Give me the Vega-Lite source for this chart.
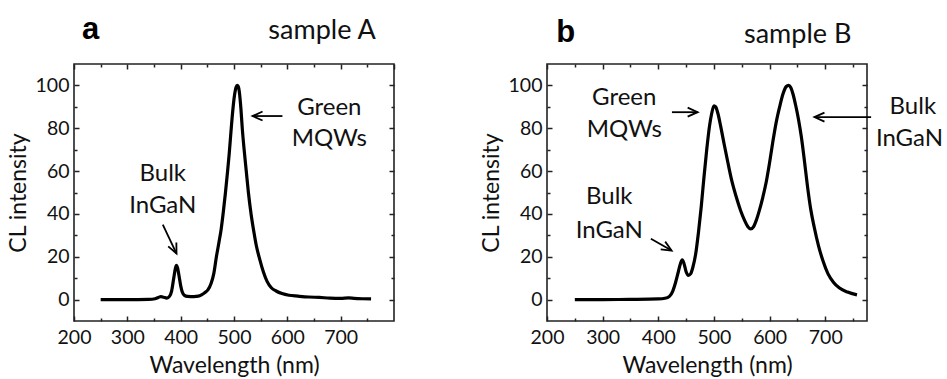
{
  "$schema": "https://vega.github.io/schema/vega-lite/v6.json",
  "padding": {"left": 6, "top": 12, "right": 0, "bottom": 0},
  "spacing": 83,
  "config": {
    "font": "Lato",
    "view": {"stroke": "#222", "strokeWidth": 1.6},
    "axis": {"labelFlush": false, "labelOverlap": false, "labelBound": false, "grid": false, "domain": false, "tickColor": "#222", "tickWidth": 1.5, "labelColor": "#111", "titleColor": "#111", "labelFontSize": 19.5, "titleFontSize": 23, "titleFontWeight": "normal", "labelFont": "Lato", "titleFont": "Lato"}
  },
  "datasets": {
    "curveA": [
      {"wl": 250, "v": 0}, {"wl": 300, "v": 0}, {"wl": 340, "v": 0.1}, {"wl": 352, "v": 0.4}, {"wl": 358, "v": 1.0},
      {"wl": 363, "v": 1.4}, {"wl": 368, "v": 1.1}, {"wl": 374, "v": 0.7}, {"wl": 379, "v": 1.5}, {"wl": 383, "v": 4},
      {"wl": 387, "v": 10}, {"wl": 390, "v": 14.5}, {"wl": 392, "v": 16}, {"wl": 394, "v": 15}, {"wl": 397, "v": 11},
      {"wl": 400, "v": 6.5}, {"wl": 403, "v": 3.5}, {"wl": 407, "v": 2}, {"wl": 413, "v": 1.5}, {"wl": 425, "v": 1.4},
      {"wl": 433, "v": 1.6}, {"wl": 439, "v": 2.2}, {"wl": 445, "v": 3.2}, {"wl": 451, "v": 4.5}, {"wl": 457, "v": 7.5},
      {"wl": 462, "v": 12}, {"wl": 467, "v": 20}, {"wl": 472, "v": 27}, {"wl": 476, "v": 33}, {"wl": 480, "v": 41},
      {"wl": 484, "v": 50}, {"wl": 488, "v": 60}, {"wl": 491, "v": 68}, {"wl": 494.5, "v": 79}, {"wl": 498, "v": 89},
      {"wl": 501, "v": 95.5}, {"wl": 504, "v": 99.3}, {"wl": 506, "v": 100}, {"wl": 508, "v": 99.5}, {"wl": 510, "v": 97},
      {"wl": 513, "v": 89}, {"wl": 515.5, "v": 80}, {"wl": 519, "v": 70}, {"wl": 523, "v": 60}, {"wl": 527, "v": 50},
      {"wl": 532, "v": 40}, {"wl": 537, "v": 32}, {"wl": 542, "v": 25}, {"wl": 548, "v": 19}, {"wl": 555, "v": 13},
      {"wl": 562, "v": 8.5}, {"wl": 570, "v": 5.5}, {"wl": 579, "v": 4}, {"wl": 590, "v": 2.8}, {"wl": 603, "v": 2},
      {"wl": 620, "v": 1.6}, {"wl": 640, "v": 1.2}, {"wl": 660, "v": 1.0}, {"wl": 680, "v": 0.7}, {"wl": 700, "v": 0.6},
      {"wl": 715, "v": 0.8}, {"wl": 725, "v": 0.6}, {"wl": 740, "v": 0.4}, {"wl": 757, "v": 0.3}
    ],
    "curveB": [
      {"wl": 250, "v": 0}, {"wl": 300, "v": 0}, {"wl": 350, "v": 0.1}, {"wl": 400, "v": 0.3}, {"wl": 412, "v": 0.6},
      {"wl": 420, "v": 1.5}, {"wl": 426, "v": 4}, {"wl": 431, "v": 8}, {"wl": 436, "v": 13}, {"wl": 440, "v": 17},
      {"wl": 443, "v": 18.5}, {"wl": 446, "v": 17}, {"wl": 450, "v": 13}, {"wl": 454, "v": 11.3}, {"wl": 458, "v": 12},
      {"wl": 462, "v": 15}, {"wl": 467, "v": 21}, {"wl": 472, "v": 31}, {"wl": 477, "v": 43}, {"wl": 482, "v": 57},
      {"wl": 487, "v": 70}, {"wl": 492, "v": 81}, {"wl": 496, "v": 87}, {"wl": 500, "v": 90.5}, {"wl": 503, "v": 90},
      {"wl": 507, "v": 87}, {"wl": 512, "v": 81}, {"wl": 518, "v": 73}, {"wl": 525, "v": 64}, {"wl": 532, "v": 55.5},
      {"wl": 540, "v": 48}, {"wl": 548, "v": 41.5}, {"wl": 555, "v": 37}, {"wl": 561, "v": 34}, {"wl": 566, "v": 33},
      {"wl": 571, "v": 34}, {"wl": 576, "v": 37}, {"wl": 582, "v": 42}, {"wl": 588, "v": 48}, {"wl": 594, "v": 55},
      {"wl": 600, "v": 64}, {"wl": 606, "v": 74}, {"wl": 612, "v": 83}, {"wl": 618, "v": 90}, {"wl": 624, "v": 96},
      {"wl": 630, "v": 99.5}, {"wl": 634, "v": 100}, {"wl": 638, "v": 99}, {"wl": 642, "v": 96}, {"wl": 647, "v": 90.5},
      {"wl": 652, "v": 84}, {"wl": 657, "v": 76}, {"wl": 662, "v": 66}, {"wl": 668, "v": 53}, {"wl": 674, "v": 42},
      {"wl": 680, "v": 34}, {"wl": 688, "v": 25}, {"wl": 696, "v": 18}, {"wl": 705, "v": 12}, {"wl": 715, "v": 8},
      {"wl": 725, "v": 5.5}, {"wl": 740, "v": 3.5}, {"wl": 757, "v": 2.2}
    ],
    "labelsA": [
      {"x": 366.5, "y": 55.6, "t": "Bulk"}, {"x": 366.5, "y": 40.5, "t": "InGaN"},
      {"x": 678.7, "y": 86.4, "t": "Green"}, {"x": 678.7, "y": 71.6, "t": "MQWs"}
    ],
    "labelsB": [
      {"x": 338.8, "y": 90.7, "t": "Green"}, {"x": 338.8, "y": 75.8, "t": "MQWs"},
      {"x": 311.9, "y": 44.4, "t": "Bulk"}, {"x": 311.9, "y": 28.8, "t": "InGaN"},
      {"x": 857.4, "y": 86.8, "t": "Bulk"}, {"x": 851.4, "y": 71.6, "t": "InGaN"}
    ],
    "titlesA": [{"x": 231, "y": 121.8, "t": "a", "kind": "letter"}, {"x": 665, "y": 121.8, "t": "sample A", "kind": "sample"}],
    "titlesB": [{"x": 233.8, "y": 120.2, "t": "b", "kind": "letter"}, {"x": 650.5, "y": 119.7, "t": "sample B", "kind": "sample"}],
    "arrowsA": [
      {"x": 366.5, "y": 35, "x2": 392.2, "y2": 21.5, "head": "down"},
      {"x": 590.8, "y": 85.7, "x2": 534.8, "y2": 85.7, "head": "left"}
    ],
    "arrowsB": [
      {"x": 424.5, "y": 87.5, "x2": 470.7, "y2": 87.5, "head": "right"},
      {"x": 386.7, "y": 28.4, "x2": 423.9, "y2": 22.9, "head": "downright"},
      {"x": 782.4, "y": 85.2, "x2": 680.6, "y2": 85.2, "head": "left"}
    ]
  },
  "hconcat": [
    {
      "width": 320, "height": 257,
      "layer": [
        {
          "data": {"name": "curveA"},
          "mark": {"type": "line", "color": "#000", "strokeWidth": 3.2, "interpolate": "monotone"},
          "encoding": {
            "x": {"field": "wl", "type": "quantitative", "scale": {"domain": [200, 800], "nice": false, "zero": false},
                  "axis": {"orient": "bottom", "values": [200, 300, 400, 500, 600, 700], "tickSize": -5, "labelPadding": 12, "title": "Wavelength (nm)", "titlePadding": 8}},
            "y": {"field": "v", "type": "quantitative", "scale": {"domain": [-10, 110], "nice": false, "zero": false},
                  "axis": {"orient": "left", "values": [0, 20, 40, 60, 80, 100], "tickSize": -5, "labelPadding": 10, "title": "CL intensity", "titlePadding": 5}}
          }
        },
        {
          "data": {"name": "arrowsA"},
          "mark": {"type": "rule", "color": "#000", "strokeWidth": 1.8},
          "encoding": {
            "x": {"field": "x", "type": "quantitative", "scale": {"domain": [200, 800], "nice": false, "zero": false},
                  "axis": {"orient": "bottom", "values": [250, 350, 450, 550, 650, 750], "tickSize": -3, "labels": false, "title": null}},
            "y": {"field": "y", "type": "quantitative", "scale": {"domain": [-10, 110], "nice": false, "zero": false},
                  "axis": {"orient": "left", "values": [10, 30, 50, 70, 90], "tickSize": -3, "labels": false, "title": null}},
            "x2": {"field": "x2"}, "y2": {"field": "y2"}
          }
        },
        {
          "data": {"name": "labelsA"},
          "mark": {"type": "text", "fontSize": 24, "baseline": "alphabetic", "align": "center", "color": "#111"},
          "encoding": {
            "x": {"field": "x", "type": "quantitative", "scale": {"domain": [200, 800], "nice": false, "zero": false},
                  "axis": {"orient": "top", "values": [200, 300, 400, 500, 600, 700, 800], "tickSize": -5, "labels": false, "title": null}},
            "y": {"field": "y", "type": "quantitative", "scale": {"domain": [-10, 110], "nice": false, "zero": false},
                  "axis": {"orient": "right", "values": [0, 20, 40, 60, 80, 100], "tickSize": -5, "labels": false, "title": null}},
            "text": {"field": "t"}
          }
        },
        {
          "data": {"name": "titlesA"},
          "transform": [{"filter": "datum.kind === 'sample'"}],
          "mark": {"type": "text", "fontSize": 27, "baseline": "alphabetic", "align": "center", "color": "#111"},
          "encoding": {
            "x": {"field": "x", "type": "quantitative", "scale": {"domain": [200, 800], "nice": false, "zero": false},
                  "axis": {"orient": "top", "values": [250, 350, 450, 550, 650, 750], "tickSize": -3, "labels": false, "title": null}},
            "y": {"field": "y", "type": "quantitative", "scale": {"domain": [-10, 110], "nice": false, "zero": false},
                  "axis": {"orient": "right", "values": [10, 30, 50, 70, 90], "tickSize": -3, "labels": false, "title": null}},
            "text": {"field": "t"}
          }
        },
        {
          "data": {"name": "titlesA"},
          "transform": [{"filter": "datum.kind === 'letter'"}],
          "mark": {"type": "text", "font": "Liberation Sans", "fontWeight": "bold", "fontSize": 31, "baseline": "alphabetic", "align": "center", "color": "#000"},
          "encoding": {
            "x": {"field": "x", "type": "quantitative", "scale": {"domain": [200, 800], "nice": false, "zero": false}, "axis": null},
            "y": {"field": "y", "type": "quantitative", "scale": {"domain": [-10, 110], "nice": false, "zero": false}, "axis": null},
            "text": {"field": "t"}
          }
        },
        {
          "data": {"name": "arrowsA"},
          "transform": [{"filter": "datum.head === 'down'"}],
          "mark": {"type": "point", "shape": "M -1 -0.45 L 0 0 L -1 0.45", "size": 400, "filled": false, "stroke": "#000", "strokeWidth": 1.8, "opacity": 1, "angle": 65},
          "encoding": {
            "x": {"field": "x2", "type": "quantitative", "scale": {"domain": [200, 800], "nice": false, "zero": false}, "axis": null},
            "y": {"field": "y2", "type": "quantitative", "scale": {"domain": [-10, 110], "nice": false, "zero": false}, "axis": null}
          }
        },
        {
          "data": {"name": "arrowsA"},
          "transform": [{"filter": "datum.head === 'left'"}],
          "mark": {"type": "point", "shape": "M -1 -0.45 L 0 0 L -1 0.45", "size": 400, "filled": false, "stroke": "#000", "strokeWidth": 1.8, "opacity": 1, "angle": 180},
          "encoding": {
            "x": {"field": "x2", "type": "quantitative", "scale": {"domain": [200, 800], "nice": false, "zero": false}, "axis": null},
            "y": {"field": "y2", "type": "quantitative", "scale": {"domain": [-10, 110], "nice": false, "zero": false}, "axis": null}
          }
        }
      ]
    },
    {
      "width": 320, "height": 257,
      "layer": [
        {
          "data": {"name": "curveB"},
          "mark": {"type": "line", "color": "#000", "strokeWidth": 3.2, "interpolate": "monotone"},
          "encoding": {
            "x": {"field": "wl", "type": "quantitative", "scale": {"domain": [200, 775], "nice": false, "zero": false},
                  "axis": {"orient": "bottom", "values": [200, 300, 400, 500, 600, 700], "tickSize": -5, "labelPadding": 12, "title": "Wavelength (nm)", "titlePadding": 8}},
            "y": {"field": "v", "type": "quantitative", "scale": {"domain": [-10, 110], "nice": false, "zero": false},
                  "axis": {"orient": "left", "values": [0, 20, 40, 60, 80, 100], "tickSize": -5, "labelPadding": 10, "title": "CL intensity", "titlePadding": 5}}
          }
        },
        {
          "data": {"name": "arrowsB"},
          "mark": {"type": "rule", "color": "#000", "strokeWidth": 1.8},
          "encoding": {
            "x": {"field": "x", "type": "quantitative", "scale": {"domain": [200, 775], "nice": false, "zero": false},
                  "axis": {"orient": "bottom", "values": [250, 350, 450, 550, 650, 750], "tickSize": -3, "labels": false, "title": null}},
            "y": {"field": "y", "type": "quantitative", "scale": {"domain": [-10, 110], "nice": false, "zero": false},
                  "axis": {"orient": "left", "values": [10, 30, 50, 70, 90], "tickSize": -3, "labels": false, "title": null}},
            "x2": {"field": "x2"}, "y2": {"field": "y2"}
          }
        },
        {
          "data": {"name": "labelsB"},
          "mark": {"type": "text", "fontSize": 24, "baseline": "alphabetic", "align": "center", "color": "#111"},
          "encoding": {
            "x": {"field": "x", "type": "quantitative", "scale": {"domain": [200, 775], "nice": false, "zero": false},
                  "axis": {"orient": "top", "values": [200, 300, 400, 500, 600, 700], "tickSize": -5, "labels": false, "title": null}},
            "y": {"field": "y", "type": "quantitative", "scale": {"domain": [-10, 110], "nice": false, "zero": false},
                  "axis": {"orient": "right", "values": [0, 20, 40, 60, 80, 100], "tickSize": -5, "labels": false, "title": null}},
            "text": {"field": "t"}
          }
        },
        {
          "data": {"name": "titlesB"},
          "transform": [{"filter": "datum.kind === 'sample'"}],
          "mark": {"type": "text", "fontSize": 27, "baseline": "alphabetic", "align": "center", "color": "#111"},
          "encoding": {
            "x": {"field": "x", "type": "quantitative", "scale": {"domain": [200, 775], "nice": false, "zero": false},
                  "axis": {"orient": "top", "values": [250, 350, 450, 550, 650, 750], "tickSize": -3, "labels": false, "title": null}},
            "y": {"field": "y", "type": "quantitative", "scale": {"domain": [-10, 110], "nice": false, "zero": false},
                  "axis": {"orient": "right", "values": [10, 30, 50, 70, 90], "tickSize": -3, "labels": false, "title": null}},
            "text": {"field": "t"}
          }
        },
        {
          "data": {"name": "titlesB"},
          "transform": [{"filter": "datum.kind === 'letter'"}],
          "mark": {"type": "text", "font": "Liberation Sans", "fontWeight": "bold", "fontSize": 31, "baseline": "alphabetic", "align": "center", "color": "#000"},
          "encoding": {
            "x": {"field": "x", "type": "quantitative", "scale": {"domain": [200, 775], "nice": false, "zero": false}, "axis": null},
            "y": {"field": "y", "type": "quantitative", "scale": {"domain": [-10, 110], "nice": false, "zero": false}, "axis": null},
            "text": {"field": "t"}
          }
        },
        {
          "data": {"name": "arrowsB"},
          "transform": [{"filter": "datum.head === 'right'"}],
          "mark": {"type": "point", "shape": "M -1 -0.45 L 0 0 L -1 0.45", "size": 400, "filled": false, "stroke": "#000", "strokeWidth": 1.8, "opacity": 1, "angle": 0},
          "encoding": {
            "x": {"field": "x2", "type": "quantitative", "scale": {"domain": [200, 775], "nice": false, "zero": false}, "axis": null},
            "y": {"field": "y2", "type": "quantitative", "scale": {"domain": [-10, 110], "nice": false, "zero": false}, "axis": null}
          }
        },
        {
          "data": {"name": "arrowsB"},
          "transform": [{"filter": "datum.head === 'downright'"}],
          "mark": {"type": "point", "shape": "M -1 -0.45 L 0 0 L -1 0.45", "size": 400, "filled": false, "stroke": "#000", "strokeWidth": 1.8, "opacity": 1, "angle": 30},
          "encoding": {
            "x": {"field": "x2", "type": "quantitative", "scale": {"domain": [200, 775], "nice": false, "zero": false}, "axis": null},
            "y": {"field": "y2", "type": "quantitative", "scale": {"domain": [-10, 110], "nice": false, "zero": false}, "axis": null}
          }
        },
        {
          "data": {"name": "arrowsB"},
          "transform": [{"filter": "datum.head === 'left'"}],
          "mark": {"type": "point", "shape": "M -1 -0.45 L 0 0 L -1 0.45", "size": 400, "filled": false, "stroke": "#000", "strokeWidth": 1.8, "opacity": 1, "angle": 180},
          "encoding": {
            "x": {"field": "x2", "type": "quantitative", "scale": {"domain": [200, 775], "nice": false, "zero": false}, "axis": null},
            "y": {"field": "y2", "type": "quantitative", "scale": {"domain": [-10, 110], "nice": false, "zero": false}, "axis": null}
          }
        }
      ]
    }
  ]
}
